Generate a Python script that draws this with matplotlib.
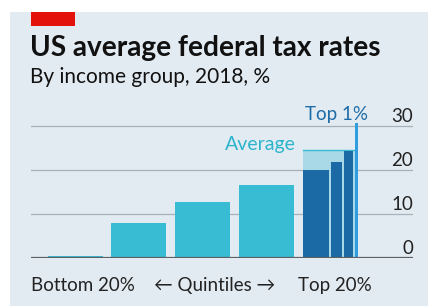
import matplotlib
matplotlib.use("Agg")
import matplotlib.pyplot as plt
from matplotlib.patches import Rectangle

# quintile bars
quintiles = ["Bottom 20%", "Second", "Middle", "Fourth", "Top 20%"]
quintile_rates = [0.5, 8.0, 12.7, 16.6, 24.5]

# breakdown of the top quintile
top_groups = ["81st-90th", "91st-95th", "96th-99th", "Top 1%"]
top_shares = [10, 5, 4, 1]
top_rates = [20.0, 21.9, 24.2, 30.6]

ticks = [0, 10, 20, 30]

W, H = 428, 306
FONT = "Lato"
BG = "#e3ebf2"
CYAN = "#38bcd4"
DARK = "#1b6aa5"
LIGHT = "#a9d9e7"
TOP1 = "#2e9ee0"

fig = plt.figure(figsize=(W / 100, H / 100), dpi=100)
fig.patch.set_facecolor("white")


def fx(px):
    return px / W


def fy(py):
    return 1 - py / H


# panel and red tag
fig.patches.append(Rectangle((fx(10), 0), 1 - fx(10), fy(12), transform=fig.transFigure,
                             facecolor=BG, edgecolor="none", zorder=-5))
fig.patches.append(Rectangle((fx(31), fy(26)), fx(75) - fx(31), fy(12.5) - fy(26),
                             transform=fig.transFigure, facecolor="#e3120b", edgecolor="none",
                             zorder=-4))

fig.text(fx(30), fy(56), "US average federal tax rates", fontsize=20.2, fontweight="bold",
         family=FONT, va="baseline", ha="left", color="#111111")
fig.text(fx(30), fy(83), "By income group, 2018, %", fontsize=15, family=FONT,
         va="baseline", ha="left", color="#111111")

# axes: zero at y=258.3px, 4.42 px per unit
ymax = 31
y0 = 258.3
ytop = y0 - ymax * 4.42
ax = fig.add_axes([fx(31), fy(y0), fx(413) - fx(31), fy(ytop) - fy(y0)])
ax.set_facecolor("none")
ax.set_xlim(-0.69, 5.29)
ax.set_ylim(0, ymax)
for s in ax.spines.values():
    s.set_visible(False)
ax.set_xticks([])
ax.set_yticks([])

for t in ticks[1:]:
    ax.axhline(t, color="#a7b1b8", lw=0.9, zorder=1)
    ax.text(1.0, t + 0.9, str(t), transform=ax.get_yaxis_transform(), ha="right",
            va="baseline", fontsize=13.5, family=FONT, color="#222222")
ax.text(1.0, 0.9, "0", transform=ax.get_yaxis_transform(), ha="right",
        va="baseline", fontsize=13.5, family=FONT, color="#222222")

bw = 0.86
xs = list(range(len(quintiles)))
ax.bar(xs[:4], quintile_rates[:4], width=bw, color=CYAN, zorder=2)

# top quintile: average band behind the breakdown
ax.bar(xs[4], quintile_rates[4], width=bw, color=LIGHT, zorder=2)
ax.plot([xs[4] - bw / 2, xs[4] + bw / 2 - 0.04], [quintile_rates[4]] * 2,
        color=CYAN, lw=1, zorder=2)
left = xs[4] - bw / 2
total = sum(top_shares)
for name, share, rate in zip(top_groups, top_shares, top_rates):
    w = bw * share / total
    c = TOP1 if name == "Top 1%" else DARK
    gap = 0.0 if name == "Top 1%" else 0.03
    ax.bar(left, rate, width=w - gap, align="edge", color=c, zorder=3)
    left += w

ax.axhline(0, color="#5b6064", lw=1.6, zorder=4)

ax.text(xs[4] - bw / 2 - 0.11, quintile_rates[4], "Average", ha="right", va="baseline",
        fontsize=14, family=FONT, color="#2bb4cc")
ax.text(xs[4] + bw / 2 + 0.16, top_rates[-1] + 0.6, "Top 1%", ha="right", va="baseline",
        fontsize=13.5, family=FONT, color="#1d6ca8")

# bottom labels
fig.text(fx(31), fy(291), quintiles[0], fontsize=13.5, family=FONT, va="baseline", color="#222222")
fig.text(fx(215), fy(291), "\u2190 Quintiles \u2192", fontsize=13.5, family=["Lato", "DejaVu Sans"],
         va="baseline", ha="center", color="#222222")
fig.text(fx(298), fy(291), quintiles[-1], fontsize=13.5, family=FONT, va="baseline", color="#222222")

fig.savefig("out.png", dpi=100, facecolor=fig.get_facecolor())
